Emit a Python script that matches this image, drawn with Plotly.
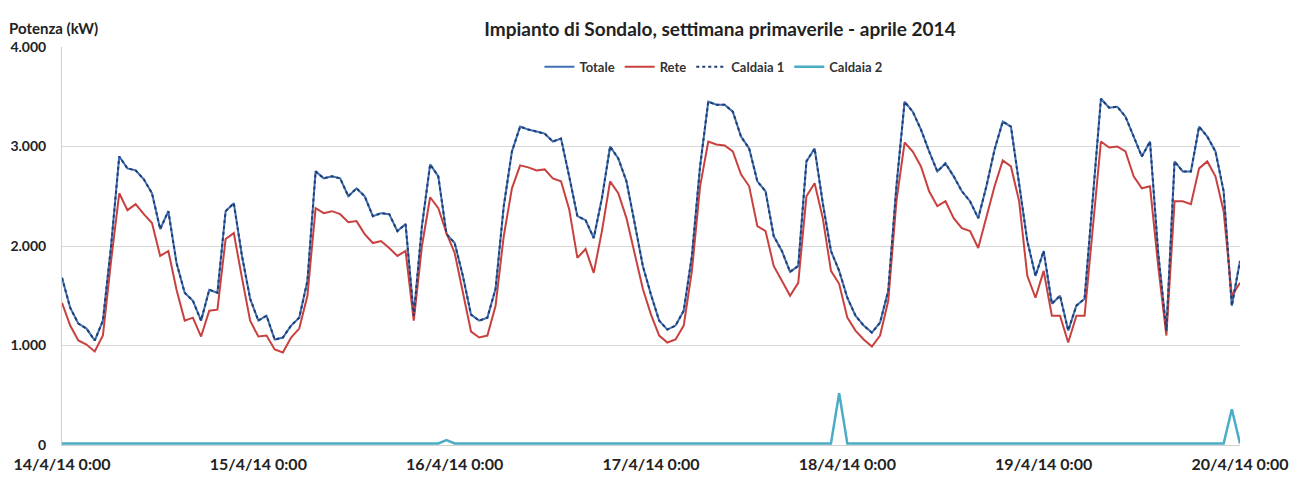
import pandas as pd
import plotly.graph_objects as go

# time axis: hourly, 14/4/2014 00:00 -> 20/4/2014 00:00
times = pd.date_range("2014-04-14 00:00", periods=145, freq="h")

totale = [
    1680, 1380, 1220, 1170, 1050, 1250, 2000, 2900, 2780, 2760, 2670, 2530, 2170, 2350, 1830, 1530, 1450, 1250, 1560, 1530, 2350, 2430, 1900, 1470,
    1250, 1300, 1060, 1080, 1200, 1280, 1650, 2750, 2680, 2700, 2680, 2500, 2580, 2500, 2300, 2330, 2320, 2150, 2220, 1300, 2200, 2820, 2700, 2120,
    2030, 1700, 1310, 1250, 1280, 1570, 2400, 2950, 3200, 3170, 3150, 3130, 3050, 3080, 2700, 2300, 2260, 2080, 2480, 3000, 2880, 2650, 2230, 1800,
    1510, 1250, 1160, 1200, 1350, 1900, 2800, 3450, 3420, 3420, 3350, 3100, 2980, 2650, 2550, 2100, 1950, 1740, 1800, 2850, 2980, 2430, 1950, 1750,
    1480, 1300, 1200, 1130, 1230, 1550, 2600, 3450, 3350, 3170, 2950, 2750, 2830, 2700, 2550, 2450, 2280, 2600, 2970, 3250, 3200, 2600, 2050, 1700,
    1950, 1420, 1500, 1150, 1400, 1470, 2500, 3480, 3390, 3400, 3300, 3100, 2900, 3050, 1930, 1150, 2850, 2750, 2750, 3200, 3100, 2950, 2550, 1400,
    1850,
]

rete = [
    1430, 1200, 1050, 1010, 940, 1100, 1850, 2530, 2360, 2420, 2320, 2230, 1900, 1950, 1560, 1250, 1280, 1090, 1350, 1360, 2070, 2130, 1680, 1250,
    1090, 1100, 960, 930, 1080, 1170, 1500, 2380, 2330, 2350, 2320, 2240, 2250, 2120, 2030, 2050, 1980, 1900, 1950, 1250, 2000, 2490, 2380, 2130,
    1930, 1550, 1140, 1080, 1100, 1400, 2100, 2580, 2810, 2790, 2760, 2770, 2680, 2650, 2370, 1880, 1970, 1730, 2150, 2650, 2530, 2280, 1920, 1570,
    1310, 1100, 1030, 1060, 1200, 1750, 2600, 3050, 3020, 3010, 2950, 2720, 2600, 2200, 2150, 1800, 1650, 1500, 1630, 2500, 2630, 2280, 1750, 1620,
    1280, 1150, 1060, 990, 1100, 1450, 2450, 3040, 2950, 2800, 2550, 2400, 2450, 2280, 2180, 2150, 1980, 2300, 2600, 2860, 2800, 2450, 1700, 1480,
    1750, 1300, 1300, 1030, 1300, 1300, 2150, 3050, 2990, 3000, 2950, 2700, 2580, 2600, 1800, 1100, 2450, 2450, 2420, 2780, 2850, 2700, 2350, 1500,
    1630,
]

caldaia1 = [
    1680, 1380, 1220, 1170, 1050, 1250, 2000, 2900, 2780, 2760, 2670, 2530, 2170, 2350, 1830, 1530, 1450, 1250, 1560, 1530, 2350, 2430, 1900, 1470,
    1250, 1300, 1060, 1080, 1200, 1280, 1650, 2750, 2680, 2700, 2680, 2500, 2580, 2500, 2300, 2330, 2320, 2150, 2220, 1300, 2200, 2820, 2700, 2120,
    2030, 1700, 1310, 1250, 1280, 1570, 2400, 2950, 3200, 3170, 3150, 3130, 3050, 3080, 2700, 2300, 2260, 2080, 2480, 3000, 2880, 2650, 2230, 1800,
    1510, 1250, 1160, 1200, 1350, 1900, 2800, 3450, 3420, 3420, 3350, 3100, 2980, 2650, 2550, 2100, 1950, 1740, 1800, 2850, 2980, 2430, 1950, 1750,
    1480, 1300, 1200, 1130, 1230, 1550, 2600, 3450, 3350, 3170, 2950, 2750, 2830, 2700, 2550, 2450, 2280, 2600, 2970, 3250, 3200, 2600, 2050, 1700,
    1950, 1420, 1500, 1150, 1400, 1470, 2500, 3480, 3390, 3400, 3300, 3100, 2900, 3050, 1930, 1150, 2850, 2750, 2750, 3200, 3100, 2950, 2550, 1400,
    1850,
]

caldaia2 = [
    15, 15, 15, 15, 15, 15, 15, 15, 15, 15, 15, 15, 15, 15, 15, 15, 15, 15, 15, 15, 15, 15, 15, 15,
    15, 15, 15, 15, 15, 15, 15, 15, 15, 15, 15, 15, 15, 15, 15, 15, 15, 15, 15, 15, 15, 15, 15, 50,
    15, 15, 15, 15, 15, 15, 15, 15, 15, 15, 15, 15, 15, 15, 15, 15, 15, 15, 15, 15, 15, 15, 15, 15,
    15, 15, 15, 15, 15, 15, 15, 15, 15, 15, 15, 15, 15, 15, 15, 15, 15, 15, 15, 15, 15, 15, 15, 520,
    15, 15, 15, 15, 15, 15, 15, 15, 15, 15, 15, 15, 15, 15, 15, 15, 15, 15, 15, 15, 15, 15, 15, 15,
    15, 15, 15, 15, 15, 15, 15, 15, 15, 15, 15, 15, 15, 15, 15, 15, 15, 15, 15, 15, 15, 15, 15, 360,
    15,
]

tick_dates = ["2014-04-14", "2014-04-15", "2014-04-16", "2014-04-17", "2014-04-18", "2014-04-19", "2014-04-20"]
tick_labels = ["14/4/14 0:00", "15/4/14 0:00", "16/4/14 0:00", "17/4/14 0:00", "18/4/14 0:00", "19/4/14 0:00", "20/4/14 0:00"]
y_ticks = [0, 1000, 2000, 3000, 4000]

FONT = "Lato"

fig = go.Figure()
fig.add_trace(go.Scatter(x=times, y=totale, name="Totale", mode="lines",
                         line=dict(color="#3F6FB5", width=2)))
fig.add_trace(go.Scatter(x=times, y=rete, name="Rete", mode="lines",
                         line=dict(color="#C8413F", width=2)))
fig.add_trace(go.Scatter(x=times, y=caldaia1, name="Caldaia 1", mode="lines",
                         line=dict(color="#1F3F73", width=2, dash="dot")))
fig.add_trace(go.Scatter(x=times, y=caldaia2, name="Caldaia 2", mode="lines",
                         line=dict(color="#4BACC6", width=2.5)))

fig.update_layout(
    width=1289, height=495,
    margin=dict(l=62, r=49, t=47, b=50, autoexpand=False),
    paper_bgcolor="white", plot_bgcolor="white",
    separators=",.",
    font=dict(family=FONT, color="#222222"),
    title=dict(text="Impianto di Sondalo, settimana primaverile - aprile 2014",
               x=720 / 1289, xref="container", xanchor="center",
               y=1 - 29 / 495, yref="container", yanchor="middle",
               font=dict(family=FONT, size=19, weight="bold", color="#222222")),
    legend=dict(orientation="h", x=0.553, xanchor="center", y=0.95, yanchor="middle",
                font=dict(family=FONT, size=13, weight="bold", color="#333333"),
                bgcolor="rgba(0,0,0,0)", itemwidth=30, tracegroupgap=0),
    showlegend=True,
)
fig.update_xaxes(
    type="date", range=["2014-04-14 00:00", "2014-04-20 00:00"],
    tickvals=tick_dates, ticktext=tick_labels,
    tickfont=dict(family=FONT, size=16, weight="bold", color="#222222"),
    showgrid=False, zeroline=False, showline=True, linecolor="#D0D0D0", linewidth=1,
    ticks="", ticklabelstandoff=5, ticklabeloverflow="allow", automargin=False,
)
fig.update_yaxes(
    range=[0, 4000], tickvals=y_ticks, tickformat=",d",
    tickfont=dict(family=FONT, size=14, weight="bold", color="#222222"),
    showgrid=True, gridcolor="#D9D9D9", gridwidth=1,
    zeroline=False, showline=True, linecolor="#D0D0D0", linewidth=1,
    ticks="", ticklabelstandoff=12, automargin=False,
)
fig.add_annotation(text="Potenza (kW)", xref="paper", yref="paper",
                   x=-55 / 1178, xanchor="left", y=1 + 19 / 398, yanchor="middle",
                   showarrow=False,
                   font=dict(family=FONT, size=15, weight="bold", color="#222222"))

fig.write_html("out.html", config={"displayModeBar": False},
               post_script="document.body.style.margin='0';")
